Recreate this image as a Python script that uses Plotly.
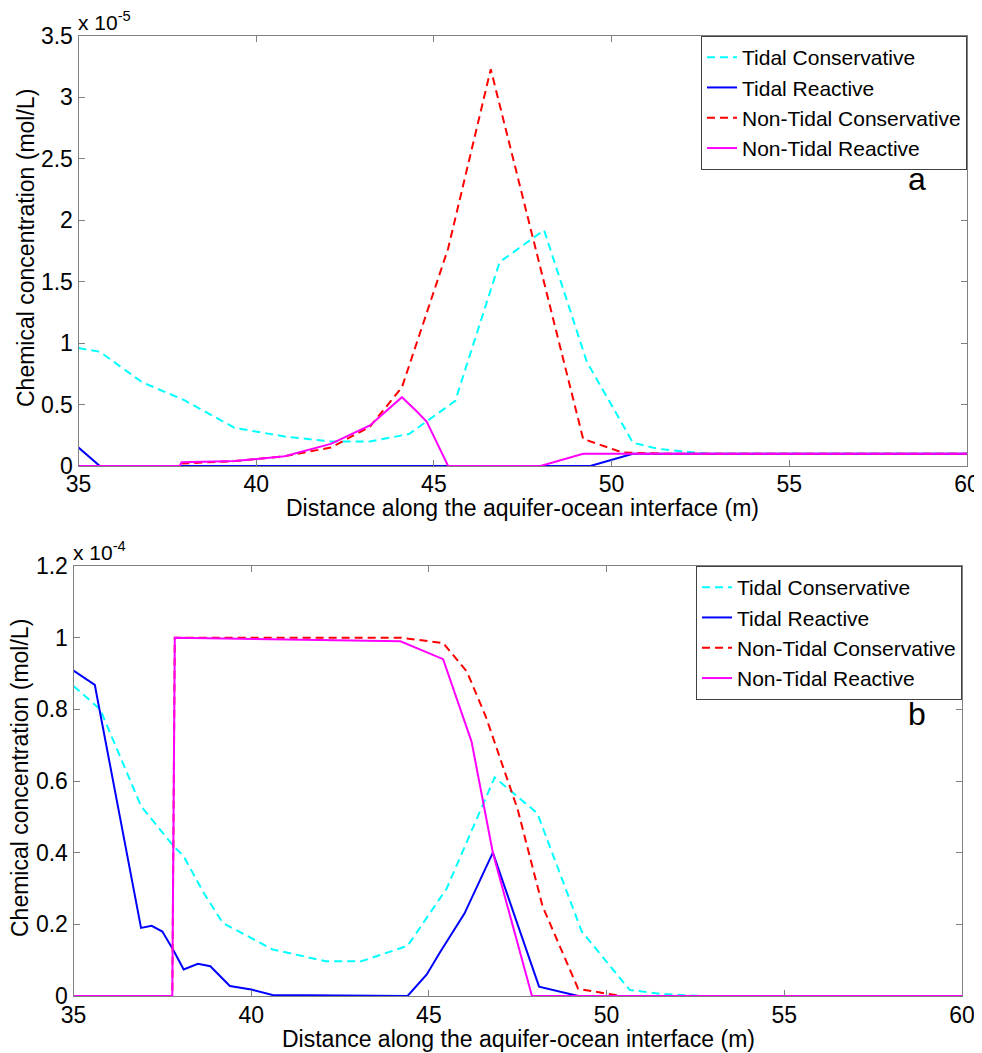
import plotly.graph_objects as go

# The page body adds an 8px margin, so the figure is sized to the window minus it
OFF = 8
W, H = 982 - OFF, 1053 - OFF

# ---------------- Panel a (units of 1e-5 mol/L) ----------------
tc_x_a = [35, 35.6, 36.8, 37.95, 39.4, 40.8, 42.1, 43.2, 44.3, 45.6, 46.85, 48.1, 49.3, 50.6, 51.3, 52.7, 60]
tc_y_a = [0.96, 0.93, 0.68, 0.54, 0.31, 0.24, 0.2, 0.2, 0.26, 0.53, 1.66, 1.92, 0.85, 0.19, 0.14, 0.1, 0.1]

tr_x_a = [35, 35.6, 49.4, 50.6, 60]
tr_y_a = [0.15, 0, 0, 0.1, 0.1]

nc_x_a = [35, 37.85, 37.9, 39.4, 40.8, 42.1, 43.2, 44.1, 45.4, 46.6, 49.2, 50.3, 51.5, 60]
nc_y_a = [0, 0, 0.02, 0.04, 0.08, 0.15, 0.32, 0.64, 1.77, 3.23, 0.22, 0.11, 0.1, 0.1]

nr_x_a = [35, 37.85, 37.9, 39.4, 40.8, 42.1, 43.2, 44.1, 44.5, 44.8, 45.1, 45.4, 48.0, 49.2, 60]
nr_y_a = [0, 0, 0.03, 0.04, 0.08, 0.18, 0.33, 0.56, 0.45, 0.36, 0.18, 0, 0, 0.1, 0.1]

# ---------------- Panel b (units of 1e-4 mol/L) ----------------
tc_x_b = [35, 35.75, 36.9, 37.8, 38.1, 38.65, 39.2, 40.6, 42.1, 43.1, 44.4, 45.5, 46.85, 48.05, 49.3, 50.65, 51.5, 52.7, 60]
tc_y_b = [0.865, 0.80, 0.53, 0.42, 0.39, 0.29, 0.204, 0.13, 0.097, 0.097, 0.14, 0.30, 0.61, 0.51, 0.18, 0.017, 0.006, 0, 0]

tr_x_b = [35, 35.6, 36.9, 37.2, 37.5, 37.8, 38.1, 38.5, 38.85, 39.4, 40, 40.6, 44.4, 44.94, 45.3, 46.0, 46.8, 48.1, 49.2, 60]
tr_y_b = [0.908, 0.868, 0.19, 0.196, 0.18, 0.13, 0.074, 0.09, 0.083, 0.028, 0.018, 0.003, 0, 0.06, 0.12, 0.23, 0.40, 0.026, 0, 0]

nc_x_b = [35, 37.78, 37.85, 44.2, 45.4, 46.07, 46.6, 47.5, 48.2, 49.2, 50.4, 60]
nc_y_b = [0, 0, 1.0, 1.0, 0.985, 0.905, 0.78, 0.52, 0.25, 0.02, 0, 0]

nr_x_b = [35, 37.78, 37.85, 44.2, 45.4, 46.2, 46.8, 47.9, 60]
nr_y_b = [0, 0, 1.0, 0.99, 0.94, 0.71, 0.40, 0, 0]

names = ["Tidal Conservative", "Tidal Reactive", "Non-Tidal Conservative", "Non-Tidal Reactive"]
colors = ["#00FFFF", "#0000FF", "#FF0000", "#FF00FF"]
dashes = ["8px,5px", "solid", "8px,5px", "solid"]

FONT = "Arial, Liberation Sans, sans-serif"

fig = go.Figure()

panel_a = [(tc_x_a, tc_y_a), (tr_x_a, tr_y_a), (nc_x_a, nc_y_a), (nr_x_a, nr_y_a)]
panel_b = [(tc_x_b, tc_y_b), (tr_x_b, tr_y_b), (nc_x_b, nc_y_b), (nr_x_b, nr_y_b)]

for i, (xs, ys) in enumerate(panel_a):
    fig.add_trace(go.Scatter(x=xs, y=ys, mode="lines", name=names[i],
                             line=dict(color=colors[i], width=2, dash=dashes[i]),
                             xaxis="x", yaxis="y", legend="legend"))
for i, (xs, ys) in enumerate(panel_b):
    fig.add_trace(go.Scatter(x=xs, y=ys, mode="lines", name=names[i],
                             line=dict(color=colors[i], width=2, dash=dashes[i]),
                             xaxis="x2", yaxis="y2", legend="legend2"))

def px_x(p):
    return (p - OFF) / W

def px_y(p):
    return 1 - (p - OFF) / H

axis_common = dict(showline=True, linecolor="#808080", linewidth=1, mirror="ticks",
                   ticks="inside", ticklen=6, tickcolor="#808080", showgrid=False,
                   zeroline=False, automargin=False,
                   tickfont=dict(family=FONT, size=23, color="black"))

legend_common = dict(xanchor="right", yanchor="top", bgcolor="white",
                     bordercolor="#404040", borderwidth=1,
                     font=dict(family=FONT, size=21, color="black"), itemwidth=30,
                     tracegroupgap=0)

fig.update_layout(
    width=W, height=H,
    margin=dict(l=0, r=0, t=0, b=0, pad=0, autoexpand=False),
    paper_bgcolor="white", plot_bgcolor="white",
    font=dict(family=FONT, color="black"),
    xaxis=dict(domain=[px_x(78.5), px_x(967)], range=[35, 60], dtick=5, anchor="y",
               ticklabelstandoff=-3, **axis_common),
    yaxis=dict(domain=[px_y(466), px_y(36)], range=[0, 3.5], dtick=0.5, anchor="x", **axis_common),
    xaxis2=dict(domain=[px_x(73.5), px_x(962)], range=[35, 60], dtick=5, anchor="y2",
                ticklabelstandoff=-2, **axis_common),
    yaxis2=dict(domain=[px_y(996), px_y(566)], range=[0, 1.2], dtick=0.2, anchor="x2", **axis_common),
    legend=dict(x=px_x(967), y=px_y(36), **legend_common),
    legend2=dict(x=px_x(962), y=px_y(566), **legend_common),
    showlegend=True,
)

ann = []
# multipliers
ann.append(dict(text="x 10<sup>-5</sup>", x=px_x(76), y=px_y(36), xref="paper", yref="paper",
                xanchor="left", yanchor="bottom", showarrow=False, font=dict(family=FONT, size=21)))
ann.append(dict(text="x 10<sup>-4</sup>", x=px_x(71), y=px_y(566), xref="paper", yref="paper",
                xanchor="left", yanchor="bottom", showarrow=False, font=dict(family=FONT, size=21)))
# panel letters
ann.append(dict(text="a", x=px_x(917), y=px_y(179), xref="paper", yref="paper",
                xanchor="center", yanchor="middle", showarrow=False, font=dict(family=FONT, size=32)))
ann.append(dict(text="b", x=px_x(917), y=px_y(714), xref="paper", yref="paper",
                xanchor="center", yanchor="middle", showarrow=False, font=dict(family=FONT, size=32)))
# axis titles
xt = "Distance along the aquifer-ocean interface (m)"
yt = "Chemical concentration (mol/L)"
ann.append(dict(text=xt, x=px_x(522), y=px_y(508), xref="paper", yref="paper",
                xanchor="center", yanchor="middle", showarrow=False, font=dict(family=FONT, size=23)))
ann.append(dict(text=xt, x=px_x(518), y=px_y(1039), xref="paper", yref="paper",
                xanchor="center", yanchor="middle", showarrow=False, font=dict(family=FONT, size=23)))
ann.append(dict(text=yt, x=px_x(26), y=px_y(248), xref="paper", yref="paper", textangle=-90,
                xanchor="center", yanchor="middle", showarrow=False, font=dict(family=FONT, size=23)))
ann.append(dict(text=yt, x=px_x(20), y=px_y(778), xref="paper", yref="paper", textangle=-90,
                xanchor="center", yanchor="middle", showarrow=False, font=dict(family=FONT, size=23)))
fig.update_layout(annotations=ann)

fig.write_html("out.html")
